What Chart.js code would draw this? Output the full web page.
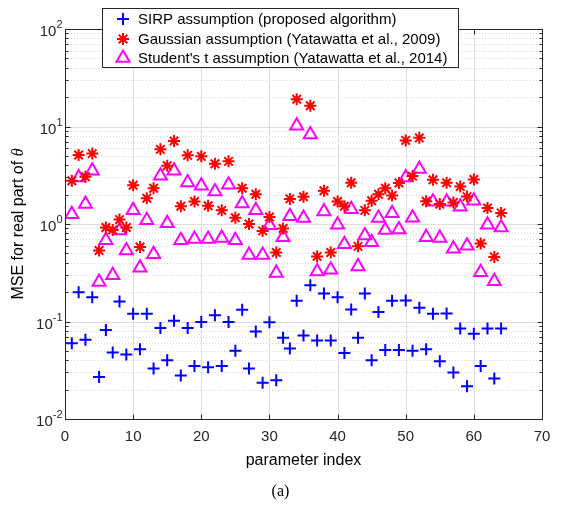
<!DOCTYPE html>
<html>
<head>
<meta charset="utf-8">
<script src="https://cdn.jsdelivr.net/npm/chart.js@4/dist/chart.umd.min.js"></script>
<style>
  html, body { margin: 0; padding: 0; background: #fff; }
  canvas { display: block; }
</style>
</head>
<body>
<canvas id="mse" width="561" height="509"></canvas>
<script>
const paramIndex = [1, 2, 3, 4, 5, 6, 7, 8, 9, 10, 11, 12, 13, 14, 15, 16,
  17, 18, 19, 20, 21, 22, 23, 24, 25, 26, 27, 28, 29, 30, 31, 32,
  33, 34, 35, 36, 37, 38, 39, 40, 41, 42, 43, 44, 45, 46, 47, 48,
  49, 50, 51, 52, 53, 54, 55, 56, 57, 58, 59, 60, 61, 62, 63, 64];

const sirpMse = [0.060, 0.199, 0.065, 0.177, 0.027, 0.082, 0.048, 0.160,
  0.046, 0.120, 0.052, 0.120, 0.033, 0.086, 0.040, 0.102,
  0.028, 0.086, 0.035, 0.099, 0.034, 0.116, 0.035, 0.099,
  0.050, 0.132, 0.033, 0.079, 0.0235, 0.098, 0.025, 0.068,
  0.053, 0.163, 0.072, 0.235, 0.064, 0.194, 0.064, 0.177,
  0.0475, 0.133, 0.068, 0.194, 0.040, 0.125, 0.051, 0.163,
  0.051, 0.164, 0.050, 0.138, 0.052, 0.120, 0.039, 0.121,
  0.030, 0.085, 0.0217, 0.075, 0.035, 0.085, 0.026, 0.085];

const gaussianMse = [2.78, 5.1, 3.05, 5.27, 0.535, 0.92, 0.87, 1.11,
  0.92, 2.5, 0.58, 1.84, 2.33, 5.83, 3.96, 7.1,
  1.52, 5.06, 1.70, 4.94, 1.54, 4.15, 1.38, 4.39,
  1.16, 2.33, 1.0, 2.02, 0.85, 1.18, 0.51, 0.90,
  1.81, 19.0, 1.90, 16.3, 0.465, 2.19, 0.51, 1.70,
  1.52, 2.65, 0.59, 1.38, 1.73, 2.02, 2.33, 1.96,
  2.63, 7.2, 3.1, 7.65, 1.71, 2.84, 1.6, 2.65,
  1.66, 2.42, 1.91, 2.86, 0.63, 1.46, 0.46, 1.30];

const studentMse = [1.26, 3.0, 1.6, 3.52, 0.254, 0.68, 0.298, 0.86,
  0.535, 1.38, 0.355, 1.09, 0.49, 3.13, 1.02, 3.52,
  0.68, 2.67, 0.70, 2.47, 0.70, 2.15, 0.72, 2.52,
  0.68, 1.62, 0.48, 1.38, 0.48, 0.97, 0.315, 0.73,
  1.2, 10.2, 1.15, 8.3, 0.325, 1.34, 0.34, 0.98,
  0.62, 1.42, 0.366, 0.76, 0.65, 1.15, 0.87, 1.29,
  0.88, 3.0, 1.16, 3.66, 0.73, 1.69, 0.72, 1.69,
  0.557, 1.5, 0.60, 1.73, 0.32, 0.98, 0.258, 0.92];

const seriesLabels = [
  "SIRP assumption (proposed algorithm)",
  "Gaussian assumption (Yatawatta et al., 2009)",
  "Student's t assumption (Yatawatta et al., 2014)"
];

const xTicks = [0, 10, 20, 30, 40, 50, 60, 70];
const yExponents = [-2, -1, 0, 1, 2];

const axisColor = "#262626";
const gridColor = "#dedede";
const sansFont = "'Liberation Sans', Arial, sans-serif";

function points(values) {
  return values.map((v, i) => ({ x: paramIndex[i], y: v }));
}

const axesPlugin = {
  id: "matlabAxes",
  beforeDatasetsDraw(chart) {
    const { ctx, chartArea: a, scales } = chart;
    const xs = scales.x, ys = scales.y;
    ctx.save();
    ctx.lineWidth = 1;
    // minor y grid (dotted)
    ctx.strokeStyle = "#d6d6d6";
    ctx.setLineDash([1, 2]);
    yExponents.slice(0, -1).forEach((e) => {
      for (let m = 2; m <= 9; m++) {
        const y = Math.round(ys.getPixelForValue(m * Math.pow(10, e))) + 0.5;
        ctx.beginPath();
        ctx.moveTo(a.left, y);
        ctx.lineTo(a.right, y);
        ctx.stroke();
      }
    });
    ctx.setLineDash([]);
    ctx.strokeStyle = gridColor;
    xTicks.forEach((t) => {
      const x = Math.round(xs.getPixelForValue(t)) + 0.5;
      ctx.beginPath();
      ctx.moveTo(x, a.top);
      ctx.lineTo(x, a.bottom);
      ctx.stroke();
    });
    yExponents.forEach((e) => {
      const y = Math.round(ys.getPixelForValue(Math.pow(10, e))) + 0.5;
      ctx.beginPath();
      ctx.moveTo(a.left, y);
      ctx.lineTo(a.right, y);
      ctx.stroke();
    });
    ctx.restore();
  },
  afterDatasetsDraw(chart) {
    const { ctx, chartArea: a, scales } = chart;
    const xs = scales.x, ys = scales.y;
    ctx.save();
    ctx.strokeStyle = axisColor;
    ctx.lineWidth = 1;
    const L = Math.round(a.left) + 0.5, R = Math.round(a.right) + 0.5;
    const T = Math.round(a.top) + 0.5, B = Math.round(a.bottom) + 0.5;
    ctx.strokeRect(L, T, R - L, B - T);

    // x ticks (bottom and top, inward)
    xTicks.forEach((t) => {
      const x = Math.round(xs.getPixelForValue(t)) + 0.5;
      ctx.beginPath();
      ctx.moveTo(x, B); ctx.lineTo(x, B - 5);
      ctx.moveTo(x, T); ctx.lineTo(x, T + 5);
      ctx.stroke();
    });
    // y ticks, major and minor, both sides
    yExponents.forEach((e, k) => {
      const y = Math.round(ys.getPixelForValue(Math.pow(10, e))) + 0.5;
      ctx.beginPath();
      ctx.moveTo(L, y); ctx.lineTo(L + 5, y);
      ctx.moveTo(R, y); ctx.lineTo(R - 5, y);
      ctx.stroke();
      if (k < yExponents.length - 1) {
        for (let m = 2; m <= 9; m++) {
          const ym = Math.round(ys.getPixelForValue(m * Math.pow(10, e))) + 0.5;
          ctx.beginPath();
          ctx.moveTo(L, ym); ctx.lineTo(L + 3, ym);
          ctx.moveTo(R, ym); ctx.lineTo(R - 3, ym);
          ctx.stroke();
        }
      }
    });

    // x tick labels
    ctx.fillStyle = axisColor;
    ctx.font = "15px " + sansFont;
    ctx.textAlign = "center";
    ctx.textBaseline = "middle";
    xTicks.forEach((t) => {
      ctx.fillText(String(t), xs.getPixelForValue(t), B + 17);
    });

    // y tick labels 10^e
    yExponents.forEach((e) => {
      const y = ys.getPixelForValue(Math.pow(10, e));
      const sup = String(e);
      ctx.font = "11px " + sansFont;
      const supW = ctx.measureText(sup).width;
      ctx.textAlign = "right";
      ctx.fillText(sup, L - 3, y - 4);
      ctx.font = "15px " + sansFont;
      ctx.fillText("10", L - 3 - supW, y + 3);
    });

    // axis titles
    ctx.fillStyle = "#000";
    ctx.font = "16px " + sansFont;
    ctx.textAlign = "center";
    ctx.fillText("parameter index", (a.left + a.right) / 2, B + 41);

    ctx.save();
    ctx.translate(19, (a.top + a.bottom) / 2);
    ctx.rotate(-Math.PI / 2);
    const t1 = "MSE for real part of ";
    ctx.font = "16px " + sansFont;
    const w1 = ctx.measureText(t1).width;
    ctx.font = "italic 16px 'Liberation Serif', serif";
    const w2 = ctx.measureText("\u03b8").width;
    ctx.textAlign = "left";
    ctx.font = "16px " + sansFont;
    ctx.fillText(t1, -(w1 + w2) / 2, 0);
    ctx.font = "italic 16px 'Liberation Serif', serif";
    ctx.fillText("\u03b8", -(w1 + w2) / 2 + w1, 0);
    ctx.restore();

    // caption
    ctx.font = "16px 'Liberation Serif', 'Times New Roman', serif";
    ctx.textAlign = "center";
    ctx.fillText("(a)", chart.width / 2, 492);

    // legend
    const lx = 102.5, ly = 8.5, lw = 356, lh = 59;
    ctx.fillStyle = "#fff";
    ctx.fillRect(lx, ly, lw, lh);
    ctx.strokeStyle = axisColor;
    ctx.strokeRect(lx, ly, lw, lh);
    const rows = [19, 39, 58];
    chart.data.datasets.forEach((ds, i) => {
      ctx.save();
      ctx.strokeStyle = ds.borderColor;
      ctx.fillStyle = "rgba(0,0,0,0)";
      ctx.lineWidth = ds.borderWidth;
      Chart.helpers.drawPoint(ctx, {
        pointStyle: ds.pointStyle,
        radius: ds.pointRadius,
        borderWidth: ds.borderWidth,
        rotation: 0
      }, 123, rows[i]);
      ctx.restore();
      ctx.fillStyle = "#000";
      ctx.font = "15px " + sansFont;
      ctx.textAlign = "left";
      ctx.textBaseline = "middle";
      ctx.fillText(ds.label, 138, rows[i] + 1);
    });
    ctx.restore();
  }
};

new Chart(document.getElementById("mse"), {
  type: "scatter",
  data: {
    datasets: [
      {
        label: seriesLabels[0],
        data: points(sirpMse),
        pointStyle: "cross",
        pointRadius: 6,
        borderColor: "#0000ff",
        backgroundColor: "#0000ff",
        borderWidth: 2
      },
      {
        label: seriesLabels[1],
        data: points(gaussianMse),
        pointStyle: "star",
        pointRadius: 6,
        borderColor: "#ff0000",
        backgroundColor: "#ff0000",
        borderWidth: 2
      },
      {
        label: seriesLabels[2],
        data: points(studentMse),
        pointStyle: "triangle",
        pointRadius: 7.5,
        borderColor: "#ff00ff",
        backgroundColor: "rgba(0,0,0,0)",
        borderWidth: 2
      }
    ]
  },
  options: {
    responsive: false,
    devicePixelRatio: 1,
    animation: false,
    events: [],
    layout: { padding: { left: 65, right: 19, top: 29, bottom: 90 } },
    plugins: { legend: { display: false }, tooltip: { enabled: false } },
    scales: {
      x: { type: "linear", min: 0, max: 70, display: false },
      y: { type: "logarithmic", min: 0.01, max: 100, display: false }
    }
  },
  plugins: [axesPlugin]
});
</script>
</body>
</html>
